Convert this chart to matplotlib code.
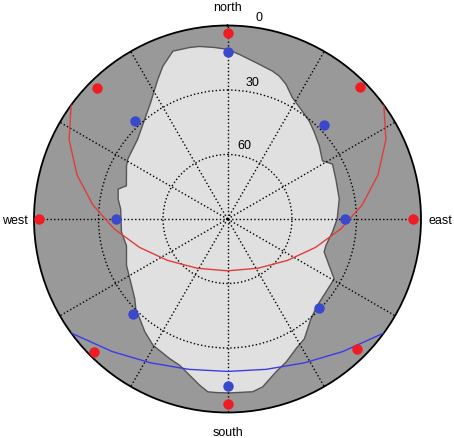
import numpy as np
import matplotlib
matplotlib.use("Agg")
import matplotlib.pyplot as plt

plt.rcParams["font.family"] = ["Liberation Sans", "DejaVu Sans"]

# horizon profile: azimuth (deg, clockwise from north) and elevation (deg)
horizon_az = [0, 4.2, 10.4, 16.9, 19.9, 23.5, 28.0, 34.8, 39.9, 45.0, 51.5, 58.5,
              62.4, 69.8, 79.9, 90.0, 97.0, 105.1, 108.8, 114.6, 119.3, 126.5,
              133.9, 140.1, 147.3, 152.1, 157.7, 162.4, 168.2, 171.7, 179.3,
              183.7, 186.5, 189.5, 193.6, 198.1, 202.5, 210.5, 216.3, 221.3,
              225.6, 229.3, 235.3, 245.3, 255.2, 263.0, 275.3, 280.3, 285.3,
              288.2, 297.8, 301.0, 311.6, 320.3, 326.7, 330.7, 333.5, 337.1,
              342.0, 347.5, 350.8, 355.7]
horizon_el = [11.1, 13.3, 16.1, 18.1, 19.3, 21.7, 25.9, 29.0, 30.7, 32.9, 35.4, 38.2,
              34.9, 36.3, 37.2, 39.0, 40.8, 42.6, 42.5, 38.0, 33.1, 33.0,
              32.0, 29.5, 23.8, 21.8, 18.1, 15.4, 10.2, 8.8, 9.1,
              9.1, 9.1, 11.6, 15.2, 18.4, 19.7, 21.8, 25.0, 28.2,
              30.3, 33.1, 35.7, 38.3, 41.4, 40.3, 40.1, 38.3, 37.3,
              40.5, 36.9, 35.9, 34.1, 29.7, 25.0, 20.8, 17.4, 12.8,
              7.9, 8.3, 8.7, 10.0]

# summer sun path (red)
summer_az = [53.9, 63.4, 73.7, 84.0, 95.0, 107.9, 124.6, 148.4, 180.0,
             211.6, 235.4, 252.1, 265.0, 276.0, 286.3, 296.6, 306.1]
summer_el = [0.0, 7.6, 17.1, 27.0, 37.1, 47.0, 56.1, 63.1, 65.9,
             63.1, 56.1, 47.0, 37.1, 27.0, 17.1, 7.6, 0.0]

# winter sun path (blue)
winter_az = [126.1, 139.0, 151.8, 165.6, 180.0, 194.4, 208.2, 221.0, 233.9]
winter_el = [0.0, 8.3, 14.1, 17.8, 19.1, 17.8, 14.1, 8.3, 0.0]

# markers
red_az = [0, 45, 90, 135, 180, 225, 270, 315]
red_el = [3.3, 3.0, 3.8, 4.5, 3.8, 2.5, 2.5, 4.0]
blue_az = [0, 45.8, 90, 134.2, 180, 224.7, 270, 316.6]
blue_el = [12.2, 27.2, 35.3, 30.5, 12.1, 27.6, 38.2, 27.2]

fig = plt.figure(figsize=(4.54, 4.39), dpi=100)
ax = fig.add_axes([34 / 454, 25.5 / 439, 387 / 454, 387 / 439], projection="polar")
ax.set_theta_zero_location("N")
ax.set_theta_direction(-1)
ax.set_ylim(90, 0)
ax.set_facecolor("#999999")

t = np.deg2rad(horizon_az + [horizon_az[0] + 360])
e = horizon_el + [horizon_el[0]]
ax.fill(t, e, facecolor="#e0e0e0", edgecolor="#555555", lw=1, zorder=1)

ax.plot(np.deg2rad(summer_az), summer_el, color="#e03c3c", lw=1, zorder=3)
ax.plot(np.deg2rad(winter_az), winter_el, color="#3c3ce6", lw=1, zorder=3)

ax.plot(np.deg2rad(red_az), red_el, "o", color="#f01c24", ms=7.5, mec="none", zorder=4)
ax.plot(np.deg2rad(blue_az), blue_el, "o", color="#3a48cc", ms=7.5, mec="none", zorder=4)

ax.set_xticks(np.deg2rad(np.arange(0, 360, 30)))
ax.set_yticks([30, 60])
ax.set_xticklabels([])
ax.set_yticklabels([])
ax.set_axisbelow(False)
ax.grid(True, color="black", linestyle=":", lw=1)
ax.spines["polar"].set_color("black")
ax.spines["polar"].set_linewidth(1.3)

fs = 9
fig.text(228 / 454, 1 - 11 / 439, "north", ha="center", va="baseline", fontsize=fs)
fig.text(228 / 454, 1 - 436.5 / 439, "south", ha="center", va="baseline", fontsize=fs)
fig.text(14.7 / 454, 1 - 224 / 439, "west", ha="center", va="baseline", fontsize=fs)
fig.text(440 / 454, 1 - 224 / 439, "east", ha="center", va="baseline", fontsize=fs)
fig.text(258.5 / 454, 1 - 21 / 439, "0", ha="center", va="baseline", fontsize=fs)
fig.text(253 / 454, 1 - 85.7 / 439, "30", ha="center", va="baseline", fontsize=fs)
fig.text(244 / 454, 1 - 149 / 439, "60", ha="center", va="baseline", fontsize=fs)

fig.savefig("out.png", dpi=100)
